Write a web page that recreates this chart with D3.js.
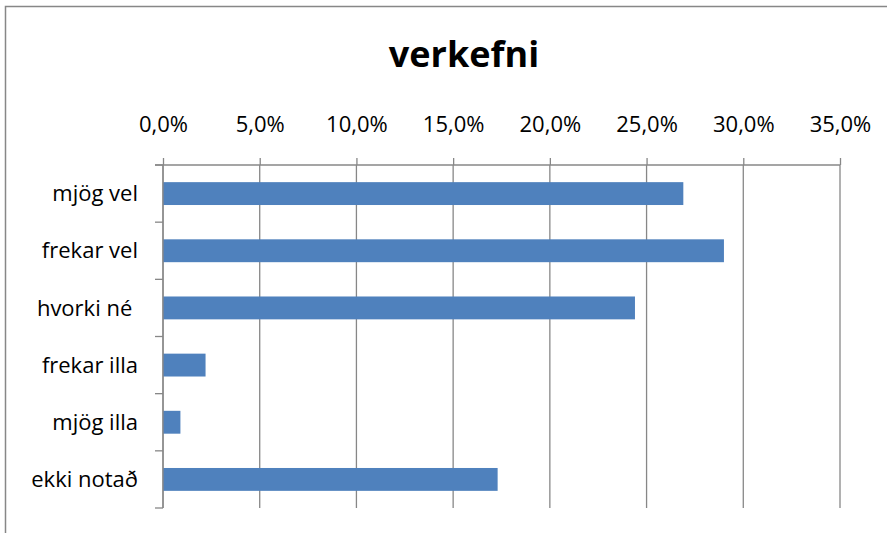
<!DOCTYPE html>
<html>
<head>
<meta charset="utf-8">
<script src="https://cdn.jsdelivr.net/npm/d3@7"></script>
<style>
  html, body { margin: 0; padding: 0; background: #fff; }
  svg { display: block; }
  text { font-family: "Open Sans", "Liberation Sans", sans-serif; fill: #000; }
</style>
</head>
<body>
<svg id="chart" width="887" height="533"></svg>
<script>
// Survey answers for "verkefni" (share of respondents)
const categories = ["mjög vel", "frekar vel", "hvorki né ", "frekar illa", "mjög illa", "ekki notað"];
const shares = [0.269, 0.290, 0.244, 0.022, 0.009, 0.173];
const tickValues = [0, 0.05, 0.10, 0.15, 0.20, 0.25, 0.30, 0.35];
const title = "verkefni";

const svg = d3.select("#chart");
const W = 887, H = 533;
const plot = { left: 163, right: 840, top: 165, bottom: 508 };
const gridColor = "#878787";
const barColor = "#4F81BD";

// Outer chart frame (top and left edges visible)
svg.append("path")
  .attr("d", `M5.5,${H} V6.5 H${W}`)
  .attr("fill", "none")
  .attr("stroke", gridColor)
  .attr("stroke-width", 1.5);

// Title
svg.append("text")
  .attr("x", 464)
  .attr("y", 67)
  .attr("text-anchor", "middle")
  .attr("font-size", 36)
  .attr("font-weight", "bold")
  .text(title);

const x = d3.scaleLinear().domain([0, 0.35]).range([plot.left, plot.right]);
const y = d3.scaleBand().domain(categories).range([plot.top, plot.bottom]).paddingInner(0.6).paddingOuter(0.3);

const pctFormat = v => d3.format(".1f")(v * 100).replace(".", ",") + "%";

// Vertical gridlines
svg.append("g")
  .selectAll("line")
  .data(tickValues)
  .join("line")
  .attr("x1", d => x(d)).attr("x2", d => x(d))
  .attr("y1", plot.top).attr("y2", plot.bottom)
  .attr("stroke", gridColor)
  .attr("stroke-width", 1.3);

// Bars
svg.append("g")
  .selectAll("rect")
  .data(categories)
  .join("rect")
  .attr("x", x(0))
  .attr("y", d => y(d))
  .attr("width", (d, i) => x(shares[i]) - x(0))
  .attr("height", y.bandwidth())
  .attr("fill", barColor);

// Top value axis
const xAxis = svg.append("g")
  .attr("transform", `translate(0,${plot.top})`)
  .call(d3.axisTop(x).tickValues(tickValues).tickFormat(pctFormat).tickSize(7).tickSizeOuter(0).tickPadding(26));
xAxis.select(".domain").remove();
xAxis.selectAll(".tick line").attr("stroke", gridColor).attr("stroke-width", 1.3);
xAxis.selectAll(".tick text")
  .attr("font-size", 22)
  .attr("font-family", "\"Open Sans\", sans-serif")
  .attr("fill", "#000");
svg.append("line")
  .attr("x1", plot.left - 8).attr("x2", plot.right)
  .attr("y1", plot.top).attr("y2", plot.top)
  .attr("stroke", gridColor).attr("stroke-width", 1.3);

// Left category axis with ticks at band boundaries
const boundaries = d3.range(categories.length + 1).map(i => plot.top + i * (plot.bottom - plot.top) / categories.length);
svg.append("line")
  .attr("x1", plot.left).attr("x2", plot.left)
  .attr("y1", plot.top).attr("y2", plot.bottom)
  .attr("stroke", gridColor).attr("stroke-width", 1.3);
svg.append("g")
  .selectAll("line")
  .data(boundaries)
  .join("line")
  .attr("x1", plot.left - 8).attr("x2", plot.left)
  .attr("y1", d => d).attr("y2", d => d)
  .attr("stroke", gridColor).attr("stroke-width", 1.3);

svg.append("g")
  .selectAll("text")
  .data(categories)
  .join("text")
  .attr("x", 138)
  .attr("y", d => y(d) + y.bandwidth() / 2)
  .attr("dy", "0.35em")
  .attr("text-anchor", "end")
  .attr("font-size", 22)
  .attr("xml:space", "preserve")
  .style("white-space", "pre")
  .text(d => d);
</script>
</body>
</html>
